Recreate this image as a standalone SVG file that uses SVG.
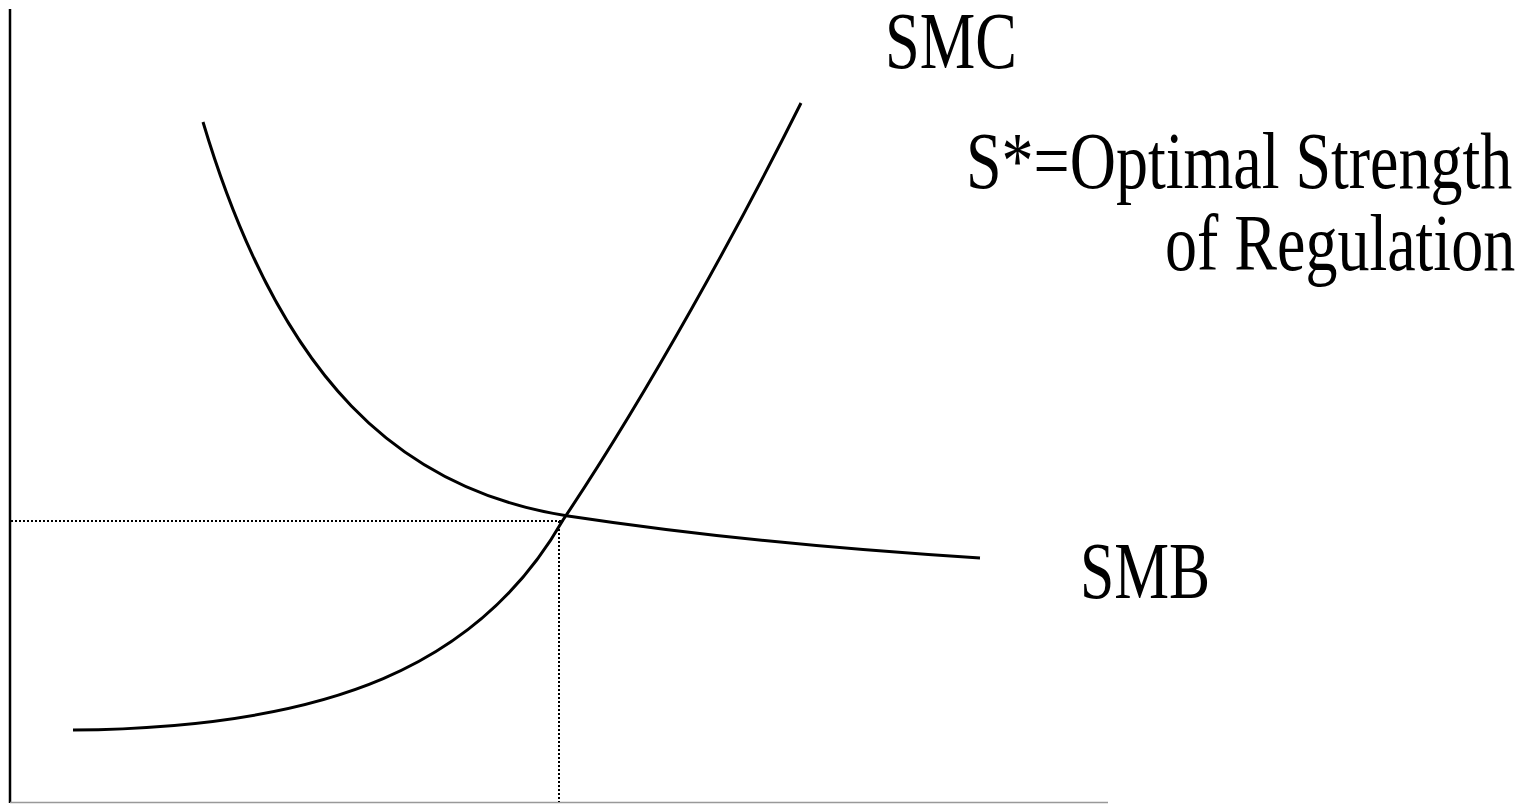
<svg xmlns="http://www.w3.org/2000/svg" width="1529" height="804" viewBox="0 0 1529 804">
<style>
.lbl{font-family:"Liberation Serif","Times New Roman",serif;fill:#000;font-size:80px}
.curve{fill:none;stroke:#000;stroke-width:3}
.dot{fill:none;stroke:#000;stroke-width:2;stroke-dasharray:2 2}
</style>
<rect width="1529" height="804" fill="#fff"/>
<g id="axes">
<line x1="10" y1="9" x2="10" y2="803" stroke="#000" stroke-width="2.5"/>
<line x1="10" y1="802.5" x2="1108" y2="802.5" stroke="#999" stroke-width="1.5"/>
</g>
<g id="connectors">
<line class="dot" x1="11" y1="521" x2="562" y2="521"/>
<line class="dot" x1="559" y1="521" x2="559" y2="802"/>
</g>
<g id="SMC">
<path class="curve" d="M73,730 C330,728 480,665 563,520 C650,390 740,225 801,103"/>
<text class="lbl" transform="translate(885,68) scale(0.78,1)">SMC</text>
</g>
<g id="SMB">
<path class="curve" d="M203,122 C280,380 400,490 568,516 C700,536 850,550 980,558"/>
<text class="lbl" transform="translate(1080,598) scale(0.77,1)">SMB</text>
</g>
<g id="note">
<text class="lbl" transform="translate(966,188) scale(0.8,1)">S*=Optimal Strength</text>
<text class="lbl" transform="translate(1165,270) scale(0.8,1)">of Regulation</text>
</g>
</svg>
